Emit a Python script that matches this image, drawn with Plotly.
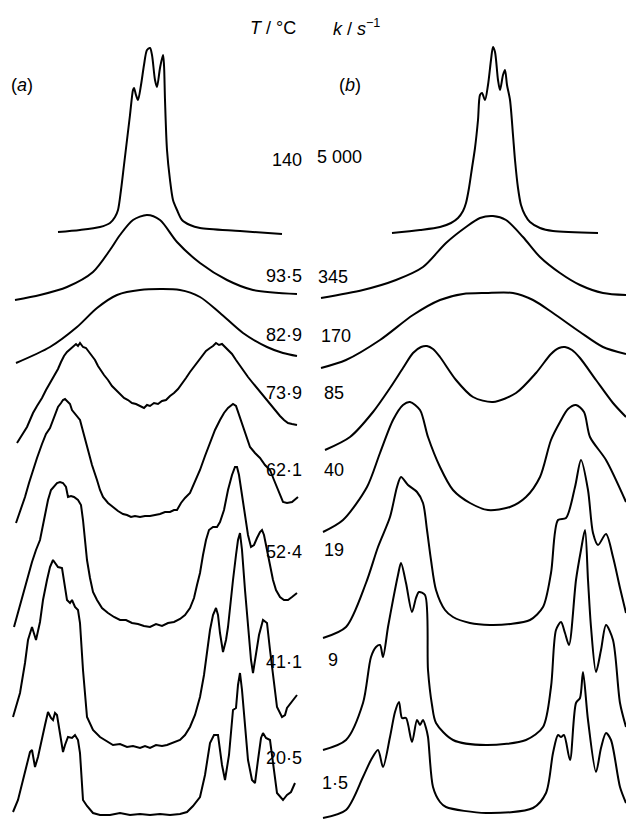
import plotly.graph_objects as go

# ---------------- data ----------------
# Labels
T_LABELS = ["140", "93·5", "82·9", "73·9", "62·1", "52·4", "41·1", "20·5"]
K_LABELS = ["5 000", "345", "170", "85", "40", "19", "9", "1·5"]

# Baseline levels of the stacked spectra (intensity units, bottom = 0)
A_BASE = [585, 519, 456, 376, 296, 192, 72, 6]
B_BASE = [586, 521, 451, 369, 287, 181, 69, 1]

# (a) experimental spectra: (frequency offset, intensity)
A_140 = [(-90, 2), (-68, 4), (-48, 7), (-38, 11), (-33, 17), (-30, 24), (-27, 44), (-24, 69), (-21, 94),
         (-18, 119), (-15, 144), (-14, 146), (-12, 139), (-10, 134), (-7, 149), (-4, 169), (-1, 184),
         (2, 186), (4, 179), (7, 154), (9, 147), (12, 166), (15, 179), (16, 169), (17, 134), (19, 84),
         (22, 54), (25, 34), (29, 24), (34, 14), (42, 9), (52, 6), (92, 3), (134, 0)]
A_935 = [(-133, 0), (-108, 5), (-81, 13), (-55, 28), (-38, 50), (-28, 65), (-15, 80), (-1, 85), (12, 80),
         (29, 58), (52, 37), (79, 20), (105, 10), (149, 6)]
A_829 = [(-132, 0), (-98, 16), (-71, 36), (-51, 55), (-31, 68), (-8, 73), (32, 73), (52, 66), (72, 50),
         (95, 30), (119, 16), (135, 10), (149, 7)]
A_739 = [(-131, 0), (-126, 8), (-121, 16), (-118, 23), (-115, 30), (-111, 37), (-106, 45), (-102, 53),
         (-98, 60), (-94, 67), (-90, 74), (-87, 81), (-84, 87), (-81, 91), (-78, 94), (-75, 96), (-72, 99),
         (-70, 97), (-68, 100), (-65, 96), (-62, 95), (-59, 91), (-56, 87), (-53, 83), (-50, 77), (-47, 72),
         (-44, 68), (-40, 63), (-36, 57), (-32, 53), (-28, 49), (-24, 45), (-20, 43), (-16, 40), (-12, 39),
         (-8, 37), (-4, 35), (-1, 38), (2, 37), (6, 40), (10, 39), (14, 42), (18, 43), (22, 47), (26, 50),
         (30, 54), (34, 59), (38, 65), (42, 71), (46, 76), (50, 82), (54, 87), (58, 92), (62, 95), (65, 97),
         (68, 100), (71, 98), (74, 99), (77, 96), (80, 94), (84, 89), (88, 83), (92, 77), (96, 71), (100, 66),
         (104, 61), (108, 56), (112, 51), (116, 46), (120, 42), (124, 37), (128, 31), (132, 27), (136, 23),
         (140, 20), (144, 19), (149, 18)]
A_621 = [(-132, 0), (-128, 11), (-123, 26), (-119, 40), (-115, 53), (-111, 65), (-106, 79), (-102, 89),
         (-98, 95), (-94, 105), (-90, 116), (-87, 120), (-85, 123), (-83, 124), (-81, 122), (-78, 119),
         (-76, 113), (-72, 108), (-68, 103), (-64, 88), (-60, 73), (-56, 58), (-51, 43), (-48, 33), (-45, 26),
         (-40, 20), (-35, 16), (-30, 12), (-25, 9), (-21, 8), (-17, 6), (-13, 7), (-8, 6), (-3, 7), (2, 7),
         (7, 8), (12, 9), (17, 11), (22, 11), (26, 13), (29, 13), (33, 20), (37, 25), (42, 30), (47, 41),
         (52, 53), (57, 67), (62, 80), (67, 93), (72, 103), (76, 110), (80, 115), (83, 118), (85, 119),
         (88, 117), (91, 108), (94, 100), (98, 87), (102, 76), (107, 70), (112, 65), (117, 58), (122, 53),
         (126, 43), (129, 36), (132, 28), (135, 21), (139, 20), (144, 21), (150, 26)]
A_524 = [(-134, 0), (-128, 22), (-122, 42), (-116, 65), (-112, 77), (-108, 87), (-104, 107), (-100, 127),
         (-97, 137), (-94, 141), (-91, 144), (-88, 145), (-85, 144), (-82, 140), (-80, 130), (-77, 131),
         (-74, 130), (-70, 127), (-67, 122), (-65, 107), (-63, 87), (-61, 67), (-58, 49), (-55, 35), (-51, 27),
         (-46, 19), (-40, 14), (-34, 10), (-28, 7), (-22, 7), (-16, 4), (-10, 3), (-4, 1), (2, 0), (8, 3),
         (14, 1), (20, 4), (26, 5), (32, 8), (37, 12), (42, 19), (46, 29), (49, 42), (52, 54), (55, 72),
         (58, 87), (61, 97), (65, 100), (69, 100), (72, 105), (76, 117), (80, 137), (84, 152), (87, 160),
         (89, 160), (91, 152), (94, 132), (97, 112), (100, 92), (103, 80), (106, 82), (109, 89), (112, 95),
         (114, 97), (116, 92), (119, 77), (122, 62), (125, 47), (128, 37), (132, 30), (136, 27), (140, 27),
         (144, 30), (149, 34)]
A_411 = [(-135, 30), (-128, 54), (-123, 84), (-120, 107), (-116, 120), (-112, 107), (-108, 125), (-105, 147),
         (-101, 167), (-98, 180), (-95, 187), (-92, 182), (-90, 180), (-86, 179), (-83, 162), (-81, 147),
         (-78, 144), (-76, 147), (-73, 140), (-70, 137), (-68, 124), (-65, 77), (-61, 30), (-55, 17),
         (-48, 10), (-41, 6), (-35, 2), (-28, 3), (-21, 0), (-15, 1), (-8, -1), (-3, 1), (2, -1), (8, 2),
         (14, 1), (19, 2), (26, 5), (32, 7), (37, 12), (42, 20), (47, 32), (52, 50), (56, 72), (59, 94),
         (62, 117), (65, 132), (68, 139), (70, 132), (72, 114), (75, 95), (78, 107), (80, 120), (82, 142),
         (85, 167), (88, 192), (90, 207), (92, 214), (94, 197), (97, 157), (100, 117), (103, 87), (105, 74),
         (108, 92), (111, 112), (115, 127), (119, 124), (122, 97), (126, 62), (129, 40), (134, 30), (137, 32),
         (139, 39), (144, 45), (149, 52)]
A_205 = [(-135, 1), (-130, 13), (-125, 33), (-121, 48), (-118, 61), (-116, 63), (-113, 46), (-110, 56),
         (-106, 76), (-103, 88), (-100, 101), (-97, 95), (-95, 93), (-93, 100), (-91, 98), (-88, 78),
         (-85, 61), (-83, 68), (-80, 76), (-76, 75), (-73, 78), (-70, 73), (-68, 60), (-65, 13), (-61, 7),
         (-55, 0), (-48, -2), (-38, -2), (-28, 0), (-18, -2), (-8, -1), (2, -2), (12, -1), (22, -2), (32, -1),
         (39, 1), (45, 7), (52, 16), (57, 38), (62, 70), (66, 78), (70, 78), (74, 48), (77, 33), (81, 58),
         (85, 103), (88, 105), (90, 128), (92, 140), (94, 123), (97, 83), (100, 53), (104, 33), (107, 30),
         (110, 53), (113, 75), (115, 80), (118, 75), (122, 73), (125, 48), (129, 20), (135, 13), (139, 18),
         (143, 21), (147, 30)]

# (b) computed spectra: (frequency offset, intensity)
B_5000 = [(-103, 0), (-75, 3), (-55, 6), (-44, 10), (-37, 15), (-32, 22), (-29, 30), (-26, 45), (-23, 65),
          (-20, 85), (-17, 113), (-15, 138), (-13, 140), (-10, 133), (-7, 148), (-4, 173), (-2, 186), (0, 181),
          (3, 153), (5, 143), (8, 158), (10, 163), (12, 148), (15, 133), (18, 98), (20, 73), (23, 45),
          (26, 28), (30, 18), (35, 11), (45, 5), (58, 2), (103, 0)]
B_345 = [(-174, 0), (-132, 8), (-99, 18), (-72, 31), (-49, 55), (-29, 71), (-15, 80), (-2, 82), (11, 78),
         (28, 61), (45, 41), (65, 25), (85, 13), (108, 5), (131, 3)]
B_170 = [(-174, 0), (-149, 8), (-115, 28), (-82, 53), (-55, 68), (-32, 74), (-9, 75), (18, 75), (38, 68),
         (58, 55), (85, 36), (108, 21), (131, 14)]
B_85 = [(-170, 0), (-145, 13), (-122, 38), (-105, 62), (-92, 82), (-82, 97), (-74, 103), (-68, 104),
        (-62, 101), (-55, 93), (-39, 70), (-22, 53), (-2, 48), (21, 57), (41, 77), (56, 96), (64, 102),
        (70, 103), (77, 100), (85, 92), (101, 70), (118, 47), (131, 33)]
B_40 = [(-172, 0), (-152, 12), (-128, 45), (-115, 79), (-102, 112), (-92, 127), (-85, 130), (-75, 122),
        (-67, 95), (-55, 65), (-42, 42), (-25, 29), (-7, 22), (15, 25), (31, 35), (45, 55), (56, 92),
        (65, 110), (73, 123), (81, 127), (89, 120), (95, 95), (111, 72), (131, 30)]
B_19 = [(-172, 0), (-149, 11), (-129, 55), (-117, 91), (-105, 121), (-98, 151), (-94, 161), (-87, 153),
        (-78, 146), (-72, 135), (-68, 108), (-64, 78), (-59, 48), (-50, 28), (-42, 21), (-25, 15), (-5, 13),
        (15, 14), (35, 18), (48, 31), (56, 65), (63, 118), (71, 120), (80, 151), (86, 178), (93, 148),
        (98, 105), (103, 93), (111, 104), (118, 81), (125, 50), (131, 25)]
B_9 = [(-172, 0), (-149, 10), (-132, 47), (-124, 93), (-119, 103), (-115, 105), (-112, 93), (-107, 123),
       (-102, 150), (-97, 175), (-94, 187), (-89, 167), (-83, 138), (-79, 152), (-76, 158), (-70, 155),
       (-67, 80), (-63, 45), (-59, 27), (-42, 10), (-9, 5), (31, 10), (48, 23), (56, 63), (61, 120),
       (66, 128), (70, 117), (74, 105), (81, 170), (86, 200), (90, 220), (93, 170), (96, 123), (101, 78),
       (106, 100), (111, 125), (118, 110), (125, 47), (131, 23)]
B_15 = [(-172, 0), (-149, 8), (-132, 41), (-124, 58), (-117, 68), (-112, 51), (-105, 81), (-100, 106),
        (-96, 116), (-93, 100), (-89, 100), (-83, 76), (-78, 98), (-75, 93), (-72, 98), (-69, 90), (-67, 81),
        (-62, 31), (-55, 16), (-49, 11), (-9, 5), (38, 10), (51, 25), (58, 65), (63, 83), (66, 81), (69, 83),
        (75, 58), (81, 115), (85, 120), (88, 146), (93, 98), (101, 46), (106, 70), (111, 85), (116, 78),
        (125, 31), (131, 15)]

A_SPECTRA = [A_140, A_935, A_829, A_739, A_621, A_524, A_411, A_205]
B_SPECTRA = [B_5000, B_345, B_170, B_85, B_40, B_19, B_9, B_15]

# ---------------- figure ----------------
W, H = 626, 819
fig = go.Figure()

for i, (spec, base) in enumerate(zip(A_SPECTRA, A_BASE)):
    xs = [p[0] for p in spec]
    ys = [base + p[1] for p in spec]
    smooth = i < 3
    line = dict(color="black", width=2, shape="spline" if smooth else "linear")
    if smooth:
        line["smoothing"] = 0.8
    fig.add_trace(go.Scatter(
        x=xs, y=ys, mode="lines", xaxis="x", yaxis="y", line=line,
        hoverinfo="skip", showlegend=False, cliponaxis=False))

for spec, base in zip(B_SPECTRA, B_BASE):
    xs = [p[0] for p in spec]
    ys = [base + p[1] for p in spec]
    fig.add_trace(go.Scatter(
        x=xs, y=ys, mode="lines", xaxis="x2", yaxis="y",
        line=dict(color="black", width=2, shape="spline", smoothing=0.8),
        hoverinfo="skip", showlegend=False, cliponaxis=True))

FONT = dict(family="Liberation Sans, Arial, sans-serif", size=18, color="black")

def px(xp, yp):
    return xp / W, 1 - yp / H

ann = []
T_Y = [160, 276, 335, 393, 470, 552, 662, 758]
K_Y = [157, 277, 336, 393, 470, 550, 660, 783]
K_X = [315, 316, 319, 322, 322, 322, 326, 320]
for lab, yy in zip(T_LABELS, T_Y):
    x, y = px(304, yy)
    ann.append(dict(text=lab, x=x, y=y, xanchor="right", yanchor="middle"))
for lab, yy, xx in zip(K_LABELS, K_Y, K_X):
    x, y = px(xx, yy)
    ann.append(dict(text=lab, x=x, y=y, xanchor="left", yanchor="middle"))

x, y = px(298, 28)
ann.append(dict(text="<i>T</i> / °C", x=x, y=y, xanchor="right", yanchor="middle"))
x, y = px(331, 28)
ann.append(dict(text="<i>k</i> / <i>s</i><sup>−1</sup>", x=x, y=y, xanchor="left", yanchor="middle"))
x, y = px(9, 85)
ann.append(dict(text="(<i>a</i>)", x=x, y=y, xanchor="left", yanchor="middle"))
x, y = px(337, 85)
ann.append(dict(text="(<i>b</i>)", x=x, y=y, xanchor="left", yanchor="middle"))

for a in ann:
    a.update(xref="paper", yref="paper", showarrow=False, font=FONT)

fig.update_layout(
    width=W, height=H,
    margin=dict(l=0, r=0, t=0, b=0, pad=0),
    paper_bgcolor="white", plot_bgcolor="white",
    xaxis=dict(domain=[0, 1], range=[-148, 478], visible=False, fixedrange=True),
    xaxis2=dict(domain=[0, 1], range=[-495, 131], overlaying="x", visible=False, fixedrange=True),
    yaxis=dict(domain=[0, 1], range=[0, 819], visible=False, fixedrange=True),
    annotations=ann,
    showlegend=False,
)

fig.write_html("out.html", config={"displayModeBar": False, "staticPlot": True},
               post_script="document.body.style.margin='0px';document.body.style.overflow='hidden';")
